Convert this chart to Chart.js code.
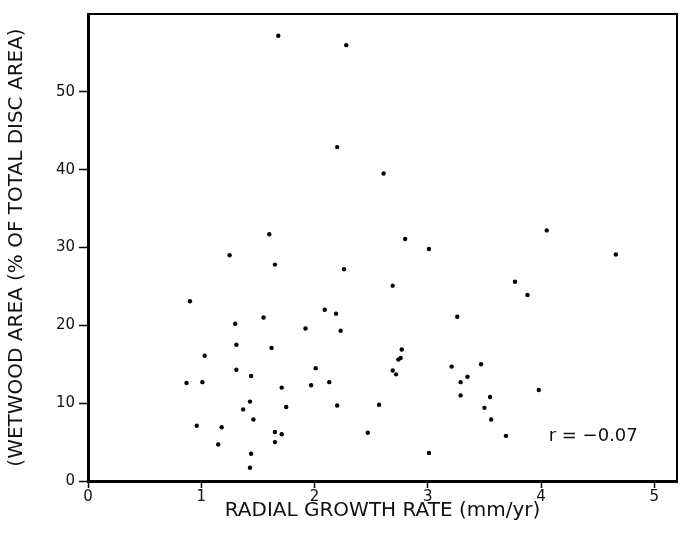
<!DOCTYPE html>
<html>
<head>
<meta charset="utf-8">
<script src="https://cdn.jsdelivr.net/npm/chart.js@4/dist/chart.umd.min.js"></script>
<style>
  html, body { margin: 0; padding: 0; background: #fff; }
  #wrap { width: 681px; height: 533px; }
</style>
</head>
<body>
<div id="wrap"><canvas id="c" width="681" height="533"></canvas></div>
<script>
// Radial growth rate (mm/yr)
const growthRate = [0.87,0.90,0.96,1.01,1.03,1.15,1.18,1.25,1.30,1.31,1.31,1.37,1.43,1.43,1.44,1.44,1.46,1.55,1.60,1.62,1.65,1.65,1.65,1.68,1.71,1.71,1.75,1.92,1.97,2.01,2.09,2.13,2.19,2.20,2.20,2.23,2.26,2.28,2.47,2.57,2.61,2.69,2.69,2.72,2.74,2.76,2.77,2.80,3.01,3.01,3.21,3.26,3.29,3.29,3.35,3.47,3.50,3.55,3.56,3.69,3.77,3.88,3.98,4.05,4.66];
// Wetwood area (% of total disc area)
const wetwoodArea = [12.6,23.1,7.1,12.7,16.1,4.7,6.9,29.0,20.2,17.5,14.3,9.2,10.2,1.7,13.5,3.5,7.9,21.0,31.7,17.1,27.8,6.3,5.0,57.2,6.0,12.0,9.5,19.6,12.3,14.5,22.0,12.7,21.5,42.9,9.7,19.3,27.2,56.0,6.2,9.8,39.5,25.1,14.2,13.7,15.6,15.8,16.9,31.1,29.8,3.6,14.7,21.1,12.7,11.0,13.4,15.0,9.4,10.8,7.9,5.8,25.6,23.9,11.7,32.2,29.1];
const xTicks = [0, 1, 2, 3, 4, 5];
const yTicks = [0, 10, 20, 30, 40, 50];
const xTitle = 'RADIAL GROWTH RATE (mm/yr)';
const yTitle = '(WETWOOD AREA (% OF TOTAL DISC AREA)';
const annotationText = 'r = \u22120.07';
const annotationAt = [4.46, 5.7];

const points = growthRate.map((x, i) => ({ x: x, y: wetwoodArea[i] }));
const FONT = 'DejaVu Sans';

const framePlugin = {
  id: 'frame',
  afterDraw(chart) {
    const { ctx, chartArea: a, scales } = chart;
    ctx.save();
    ctx.strokeStyle = '#000';
    ctx.lineWidth = 2;
    ctx.beginPath();
    ctx.moveTo(a.left, a.top);
    ctx.lineTo(a.right, a.top);
    ctx.lineTo(a.right, a.bottom);
    ctx.stroke();
    ctx.fillStyle = '#111';
    ctx.font = '18px "' + FONT + '"';
    ctx.textAlign = 'center';
    ctx.textBaseline = 'middle';
    ctx.fillText(annotationText, scales.x.getPixelForValue(annotationAt[0]), scales.y.getPixelForValue(annotationAt[1]));
    ctx.restore();
  }
};

new Chart(document.getElementById('c'), {
  type: 'scatter',
  data: {
    datasets: [{
      data: points,
      backgroundColor: '#000',
      borderColor: '#000',
      pointRadius: 2.2,
      pointHoverRadius: 2.2,
      borderWidth: 0
    }]
  },
  options: {
    responsive: false,
    animation: false,
    layout: { padding: { top: 14, right: 4, left: 0, bottom: 0 } },
    plugins: { legend: { display: false }, tooltip: { enabled: false } },
    scales: {
      x: {
        type: 'linear',
        min: 0,
        max: 5.2,
        afterBuildTicks(scale) { scale.ticks = xTicks.map(v => ({ value: v })); },
        afterFit(scale) { scale.height = 52; },
        grid: { drawOnChartArea: false, tickLength: 7, tickColor: '#000', tickWidth: 1.5 },
        border: { color: '#000', width: 3 },
        ticks: { color: '#111', font: { family: FONT, size: 15 }, padding: 0, maxRotation: 0 },
        title: { display: true, text: xTitle, color: '#111', font: { family: FONT, size: 20 }, padding: { top: 0, bottom: 10 } }
      },
      y: {
        type: 'linear',
        min: 0,
        max: 60,
        afterBuildTicks(scale) { scale.ticks = yTicks.map(v => ({ value: v })); },
        afterFit(scale) { scale.width = 88; },
        grid: { drawOnChartArea: false, tickLength: 9, tickColor: '#000', tickWidth: 1.5 },
        border: { color: '#000', width: 3 },
        ticks: { color: '#111', font: { family: FONT, size: 15 }, padding: 4 },
        title: { display: true, text: yTitle, color: '#111', font: { family: FONT, size: 20 }, padding: { top: 5, bottom: 0 } }
      }
    }
  },
  plugins: [framePlugin]
});
</script>
</body>
</html>
